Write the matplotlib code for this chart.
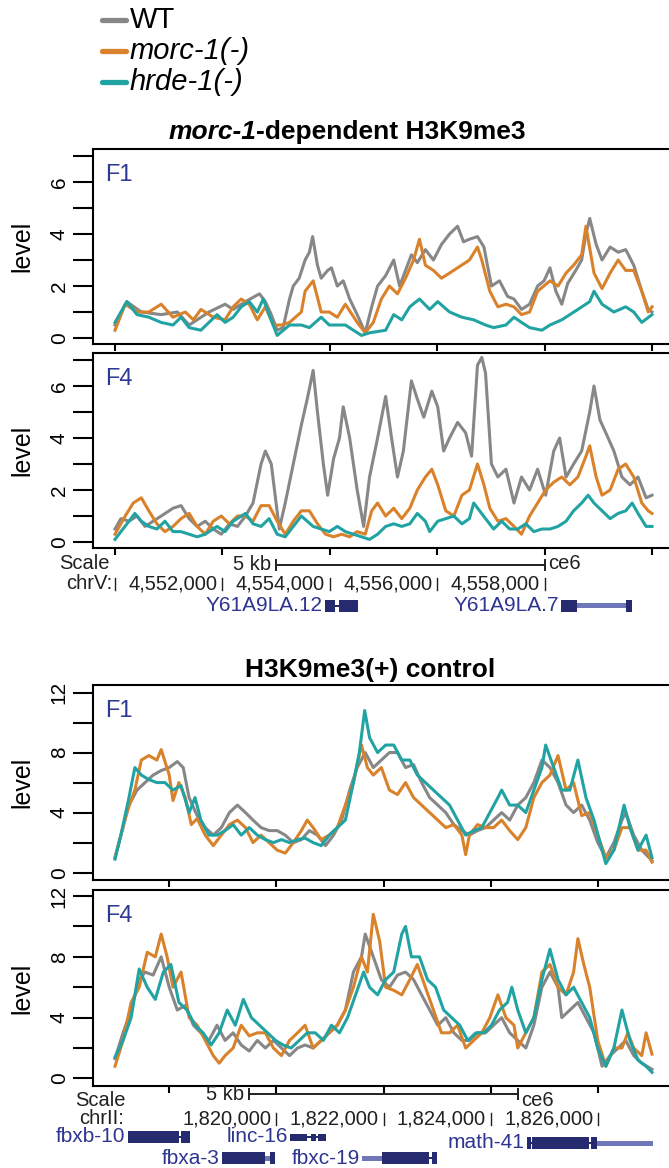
import matplotlib
matplotlib.use("Agg")
import matplotlib.pyplot as plt
from matplotlib.lines import Line2D
from matplotlib.patches import Rectangle

plt.rcParams['font.family'] = ['Liberation Sans', 'DejaVu Sans']

# ---- data (positions in kb from window start) ----
# morc-1-dependent region, chrV 4,550,000 - 4,560,000
dep_start = 4550000
dep_f1_wt_kb = [0, 0.22, 0.49, 0.86, 1.16, 1.38, 1.53, 1.75, 2.05, 2.20, 2.43, 2.69, 2.80, 2.91, 3.02, 3.13,
                3.25, 3.32, 3.43, 3.54, 3.62, 3.68, 3.77, 3.84, 3.96, 4.03, 4.14, 4.25, 4.37, 4.51, 4.66, 4.78,
                4.89, 5.04, 5.19, 5.30, 5.41, 5.52, 5.63, 5.78, 5.93, 6.08, 6.23, 6.38, 6.49, 6.60, 6.75, 6.87,
                7.01, 7.16, 7.31, 7.43, 7.57, 7.72, 7.87, 7.99, 8.10, 8.21, 8.32, 8.43, 8.58, 8.69, 8.77, 8.84,
                8.96, 9.07, 9.22, 9.37, 9.51, 9.66, 9.81, 9.93, 10.0]
dep_f1_wt = [0.5, 1.4, 1.0, 0.9, 1.0, 0.5, 0.7, 1.0, 1.3, 1.1, 1.4, 1.7, 1.4, 0.9, 0.3, 0.4,
             1.5, 2.0, 2.3, 3.0, 3.3, 3.9, 2.8, 2.3, 2.6, 2.7, 2.0, 2.2, 1.5, 0.9, 0.2, 1.2,
             2.0, 2.4, 3.0, 2.0, 2.6, 3.2, 2.9, 3.4, 3.0, 3.6, 4.0, 4.3, 3.7, 3.8, 3.9, 3.5,
             2.0, 2.2, 1.6, 1.5, 1.1, 1.3, 2.0, 2.2, 2.7, 1.8, 1.3, 2.1, 2.6, 3.0, 4.0, 4.6,
             3.6, 3.0, 3.5, 3.3, 3.4, 2.8, 1.8, 1.1, 1.0]
dep_f1_morc_kb = [0, 0.19, 0.41, 0.63, 0.86, 1.08, 1.31, 1.46, 1.60, 1.83, 2.05, 2.20, 2.35, 2.50, 2.65, 2.80,
                  2.95, 3.10, 3.25, 3.47, 3.54, 3.69, 3.84, 3.99, 4.14, 4.29, 4.51, 4.66, 4.81, 4.96, 5.11, 5.26,
                  5.41, 5.56, 5.67, 5.78, 5.93, 6.08, 6.23, 6.38, 6.60, 6.75, 6.83, 6.98, 7.13, 7.28, 7.43, 7.57,
                  7.72, 7.87, 8.10, 8.25, 8.40, 8.54, 8.69, 8.77, 8.92, 9.07, 9.22, 9.37, 9.51, 9.66, 9.81, 9.93, 10.0]
dep_f1_morc = [0.3, 1.3, 1.0, 1.0, 1.3, 0.8, 1.0, 0.7, 1.1, 0.8, 0.7, 1.2, 1.5, 1.3, 0.7, 1.2,
               0.5, 0.5, 0.6, 1.0, 1.8, 2.2, 1.0, 1.0, 0.8, 1.3, 0.6, 0.2, 0.6, 1.5, 2.0, 1.7,
               2.3, 3.0, 3.8, 2.8, 2.6, 2.3, 2.5, 2.7, 3.0, 3.5, 3.0, 1.8, 1.2, 1.3, 1.2, 0.9,
               1.0, 1.8, 2.2, 2.0, 2.5, 2.8, 3.2, 4.3, 2.5, 1.9, 2.5, 3.0, 2.6, 2.6, 1.8, 1.0, 1.2]
dep_f1_hrde_kb = [0, 0.22, 0.41, 0.63, 0.86, 1.08, 1.23, 1.38, 1.60, 1.75, 1.90, 2.05, 2.20, 2.35, 2.50, 2.65,
                  2.76, 2.87, 3.02, 3.25, 3.47, 3.62, 3.84, 3.99, 4.29, 4.44, 4.59, 4.74, 5.04, 5.19, 5.34, 5.49,
                  5.67, 5.86, 6.01, 6.23, 6.46, 6.68, 6.90, 7.05, 7.28, 7.43, 7.57, 7.72, 7.95, 8.10, 8.32, 8.47,
                  8.62, 8.84, 8.92, 9.07, 9.29, 9.51, 9.66, 9.81, 10.0]
dep_f1_hrde = [0.6, 1.4, 0.9, 0.8, 0.6, 0.5, 0.8, 0.4, 0.3, 0.6, 0.9, 0.6, 0.8, 1.2, 1.4, 1.0,
               1.5, 0.9, 0.1, 0.5, 0.5, 0.4, 0.8, 0.5, 0.5, 0.3, 0.1, 0.2, 0.3, 0.9, 0.7, 1.2,
               1.5, 1.1, 1.4, 1.0, 0.8, 0.7, 0.5, 0.4, 0.5, 0.8, 0.6, 0.4, 0.3, 0.5, 0.7, 0.9,
               1.1, 1.4, 1.8, 1.3, 1.0, 1.2, 1.0, 0.6, 0.9]

dep_f4_wt_kb = [0, 0.11, 0.26, 0.41, 0.56, 0.71, 0.86, 1.08, 1.23, 1.38, 1.53, 1.68, 1.83, 1.98, 2.13, 2.28,
                2.43, 2.57, 2.72, 2.80, 2.91, 3.06, 3.17, 3.32, 3.47, 3.58, 3.69, 3.77, 3.88, 3.96, 4.07, 4.18,
                4.25, 4.37, 4.51, 4.63, 4.74, 4.89, 5.04, 5.15, 5.26, 5.37, 5.52, 5.63, 5.75, 5.90, 6.01, 6.12,
                6.23, 6.38, 6.53, 6.64, 6.75, 6.83, 6.90, 7.01, 7.13, 7.28, 7.43, 7.57, 7.72, 7.87, 8.02, 8.17,
                8.28, 8.40, 8.54, 8.69, 8.84, 8.92, 9.03, 9.14, 9.29, 9.44, 9.59, 9.74, 9.89, 10.0]
dep_f4_wt = [0.5, 0.9, 0.8, 1.0, 0.6, 0.8, 1.0, 1.3, 1.4, 0.9, 0.6, 0.8, 0.5, 0.3, 0.7, 0.6,
             1.0, 1.5, 3.0, 3.5, 3.0, 0.5, 1.5, 3.0, 4.5, 5.5, 6.6, 5.0, 3.0, 1.8, 3.2, 4.0,
             5.2, 4.0, 2.0, 0.6, 2.5, 4.0, 5.6, 4.0, 2.5, 3.5, 6.2, 5.5, 4.8, 5.8, 5.2, 3.5,
             4.0, 4.6, 4.2, 3.3, 6.8, 7.1, 6.5, 3.0, 2.5, 2.8, 1.5, 2.5, 2.0, 2.8, 1.8, 3.5,
             4.0, 2.5, 3.0, 3.5, 5.0, 6.0, 4.7, 4.2, 3.5, 2.5, 2.2, 2.5, 1.7, 1.8]
dep_f4_morc_kb = [0, 0.19, 0.34, 0.49, 0.63, 0.78, 0.93, 1.08, 1.23, 1.38, 1.53, 1.68, 1.83, 1.98, 2.13, 2.28,
                  2.43, 2.57, 2.72, 2.87, 3.02, 3.17, 3.32, 3.47, 3.62, 3.77, 3.92, 4.07, 4.22, 4.37, 4.51, 4.66,
                  4.78, 4.89, 5.04, 5.19, 5.34, 5.49, 5.63, 5.78, 5.90, 6.01, 6.16, 6.31, 6.46, 6.60, 6.75, 6.87,
                  6.98, 7.13, 7.28, 7.43, 7.57, 7.72, 7.87, 8.02, 8.17, 8.32, 8.47, 8.62, 8.77, 8.84, 8.96, 9.07,
                  9.22, 9.37, 9.51, 9.66, 9.81, 9.93, 10.0]
dep_f4_morc = [0.3, 1.0, 1.5, 1.7, 1.2, 0.7, 0.4, 0.6, 0.9, 1.1, 0.6, 0.3, 0.8, 1.0, 0.7, 1.0,
               1.0, 0.8, 1.4, 1.4, 0.8, 0.3, 0.8, 1.2, 1.2, 0.7, 0.3, 0.2, 0.3, 0.2, 0.4, 0.3,
               1.2, 1.5, 1.0, 1.3, 0.9, 1.3, 2.0, 2.5, 2.8, 2.2, 1.2, 1.0, 1.8, 2.0, 3.0, 2.2,
               1.3, 0.8, 0.9, 0.6, 0.3, 1.0, 1.5, 2.0, 2.3, 2.5, 2.2, 2.5, 3.3, 3.7, 2.5, 1.8,
               2.0, 2.8, 3.0, 2.5, 1.5, 1.2, 1.1]
dep_f4_hrde_kb = [0, 0.11, 0.26, 0.37, 0.49, 0.63, 0.78, 0.93, 1.08, 1.23, 1.38, 1.53, 1.68, 1.90, 2.05, 2.20,
                  2.43, 2.57, 2.72, 2.87, 3.02, 3.17, 3.32, 3.47, 3.58, 3.69, 3.84, 3.99, 4.14, 4.29, 4.44, 4.59,
                  4.74, 4.89, 5.04, 5.19, 5.34, 5.49, 5.63, 5.78, 5.86, 6.01, 6.16, 6.31, 6.46, 6.60, 6.68, 6.79,
                  6.90, 7.05, 7.20, 7.35, 7.50, 7.65, 7.80, 7.95, 8.10, 8.25, 8.40, 8.54, 8.69, 8.81, 8.92, 9.07,
                  9.22, 9.37, 9.51, 9.63, 9.74, 9.89, 10.0]
dep_f4_hrde = [0.1, 0.4, 0.8, 1.1, 0.8, 0.6, 0.5, 0.8, 0.4, 0.4, 0.3, 0.2, 0.3, 0.6, 0.4, 0.8,
               1.1, 0.7, 0.6, 0.9, 0.3, 0.2, 0.6, 1.0, 0.8, 0.6, 0.5, 0.4, 0.6, 0.4, 0.3, 0.2,
               0.1, 0.3, 0.6, 0.7, 0.6, 0.7, 1.1, 0.8, 0.4, 0.8, 0.9, 1.0, 0.7, 0.9, 1.5, 1.2,
               0.9, 0.5, 0.8, 0.5, 0.5, 0.7, 0.4, 0.5, 0.5, 0.6, 0.8, 1.2, 1.5, 1.8, 1.5, 1.2,
               0.9, 1.1, 1.2, 1.5, 1.1, 0.6, 0.6]

# H3K9me3(+) control region, chrII 1,817,000 - 1,827,000
ctl_start = 1817000
ctl_f1_wt_kb = [0, 0.11, 0.26, 0.41, 0.56, 0.71, 0.86, 1.01, 1.16, 1.27, 1.38, 1.53, 1.68, 1.83, 1.98, 2.13,
                2.28, 2.43, 2.57, 2.72, 2.87, 3.02, 3.17, 3.32, 3.47, 3.62, 3.77, 3.92, 4.07, 4.22, 4.37, 4.51,
                4.66, 4.81, 4.96, 5.11, 5.26, 5.41, 5.56, 5.71, 5.86, 6.01, 6.16, 6.31, 6.46, 6.60, 6.75, 6.90,
                7.05, 7.20, 7.35, 7.50, 7.65, 7.80, 7.95, 8.10, 8.25, 8.40, 8.54, 8.69, 8.84, 8.99, 9.14, 9.29,
                9.44, 9.51, 9.66, 9.81, 10.0]
ctl_f1_wt = [1.0, 2.5, 4.5, 5.5, 6.0, 6.5, 6.8, 7.0, 7.4, 7.0, 5.0, 3.8, 3.0, 2.5, 3.0, 4.0,
             4.5, 4.0, 3.5, 3.0, 2.8, 2.8, 2.5, 2.0, 2.2, 2.8, 2.5, 1.8, 2.5, 3.5, 5.5, 7.0,
             8.0, 7.0, 7.5, 8.0, 8.0, 7.0, 7.2, 6.0, 5.0, 4.5, 4.0, 3.2, 2.8, 2.5, 2.8, 3.0,
             3.5, 4.0, 3.5, 4.5, 5.0, 6.0, 7.5, 7.0, 6.0, 4.5, 4.0, 4.5, 3.5, 2.0, 1.0, 2.0,
             3.5, 4.0, 2.5, 1.5, 0.8]
ctl_f1_morc_kb = [0, 0.11, 0.22, 0.37, 0.49, 0.63, 0.78, 0.86, 1.01, 1.08, 1.19, 1.31, 1.42, 1.53, 1.68, 1.83,
                  1.98, 2.13, 2.28, 2.43, 2.57, 2.72, 2.87, 3.02, 3.17, 3.32, 3.47, 3.58, 3.69, 3.84, 3.99, 4.14,
                  4.29, 4.44, 4.59, 4.70, 4.81, 4.96, 5.11, 5.26, 5.41, 5.56, 5.71, 5.86, 6.01, 6.16, 6.31, 6.46,
                  6.53, 6.60, 6.75, 6.90, 7.05, 7.20, 7.35, 7.50, 7.65, 7.80, 7.95, 8.10, 8.25, 8.40, 8.54, 8.69,
                  8.84, 8.99, 9.14, 9.29, 9.44, 9.59, 9.74, 9.89, 10.0]
ctl_f1_morc = [1.0, 2.5, 4.0, 5.5, 7.5, 7.8, 7.5, 8.2, 6.5, 4.8, 6.0, 5.0, 3.2, 3.6, 2.5, 1.8,
               2.5, 3.2, 3.5, 3.0, 2.0, 2.5, 2.0, 1.5, 1.3, 2.0, 2.8, 3.5, 3.0, 2.2, 2.5, 3.0,
               4.5, 6.0, 8.5, 7.0, 6.5, 7.0, 5.5, 5.2, 6.0, 5.0, 4.5, 4.0, 3.5, 3.0, 3.2, 2.5,
               1.2, 2.5, 3.2, 3.0, 3.0, 3.5, 2.8, 2.2, 3.0, 5.0, 6.0, 6.5, 7.8, 5.5, 6.0, 3.8,
               4.0, 2.5, 1.0, 1.5, 3.0, 3.0, 1.5, 1.5, 0.7]
ctl_f1_hrde_kb = [0, 0.11, 0.26, 0.37, 0.49, 0.63, 0.78, 0.93, 1.08, 1.23, 1.38, 1.49, 1.60, 1.75, 1.90, 2.05,
                  2.20, 2.35, 2.50, 2.65, 2.80, 2.95, 3.10, 3.25, 3.40, 3.54, 3.69, 3.84, 3.99, 4.14, 4.29, 4.44,
                  4.55, 4.65, 4.74, 4.89, 5.04, 5.19, 5.34, 5.49, 5.63, 5.78, 5.93, 6.08, 6.23, 6.38, 6.53, 6.68,
                  6.83, 6.98, 7.13, 7.20, 7.35, 7.50, 7.65, 7.80, 7.95, 8.02, 8.17, 8.32, 8.47, 8.62, 8.77, 8.92,
                  9.07, 9.14, 9.29, 9.48, 9.59, 9.74, 9.89, 10.0]
ctl_f1_hrde = [0.9, 2.5, 5.0, 7.0, 6.5, 6.2, 6.0, 6.0, 5.5, 5.8, 4.0, 5.0, 3.5, 2.5, 2.5, 2.8,
               3.2, 2.5, 3.0, 2.5, 2.2, 2.0, 2.2, 2.0, 2.2, 2.3, 2.0, 1.8, 2.5, 3.0, 3.5, 6.0,
               8.0, 10.8, 9.0, 8.0, 8.5, 8.5, 7.5, 7.5, 6.5, 6.0, 5.5, 5.0, 4.5, 3.5, 2.5, 2.8,
               3.0, 4.0, 5.0, 5.5, 4.5, 4.5, 4.0, 5.5, 7.0, 8.5, 7.0, 5.5, 5.5, 7.5, 5.0, 3.5,
               1.5, 0.6, 1.5, 4.5, 3.0, 1.5, 2.5, 1.0]

ctl_f4_wt_kb = [0, 0.15, 0.30, 0.45, 0.56, 0.71, 0.86, 1.01, 1.16, 1.31, 1.46, 1.60, 1.75, 1.90, 2.05, 2.20,
                2.35, 2.50, 2.65, 2.80, 2.95, 3.10, 3.25, 3.40, 3.54, 3.69, 3.84, 3.99, 4.14, 4.29, 4.44, 4.59,
                4.66, 4.81, 4.96, 5.11, 5.26, 5.41, 5.56, 5.71, 5.86, 6.01, 6.16, 6.31, 6.46, 6.60, 6.75, 6.90,
                7.05, 7.20, 7.35, 7.50, 7.65, 7.80, 7.95, 8.10, 8.25, 8.32, 8.47, 8.62, 8.77, 8.92, 9.07, 9.22,
                9.37, 9.51, 9.66, 9.81, 10.0]
ctl_f4_wt = [1.3, 3.0, 4.5, 6.5, 7.0, 6.8, 8.0, 6.0, 4.5, 4.8, 3.5, 3.0, 2.5, 3.5, 2.5, 3.0,
             2.2, 1.8, 2.5, 2.0, 2.5, 2.0, 1.5, 2.0, 2.2, 2.0, 2.5, 3.0, 3.5, 4.5, 7.0, 8.0,
             9.5, 8.0, 6.5, 6.0, 6.8, 7.0, 6.5, 5.5, 4.5, 3.5, 4.0, 3.0, 2.5, 2.5, 3.0, 3.0,
             3.5, 4.0, 3.0, 2.5, 2.0, 3.5, 6.0, 7.0, 6.0, 4.0, 4.5, 5.0, 4.0, 3.0, 0.8, 1.5,
             2.0, 2.5, 1.5, 1.0, 0.6]
ctl_f4_morc_kb = [0, 0.15, 0.30, 0.45, 0.60, 0.75, 0.86, 0.97, 1.08, 1.23, 1.38, 1.53, 1.68, 1.83, 1.94, 2.05,
                  2.20, 2.35, 2.50, 2.65, 2.80, 2.95, 3.10, 3.25, 3.40, 3.54, 3.69, 3.84, 3.99, 4.14, 4.29, 4.44,
                  4.59, 4.70, 4.81, 4.93, 5.04, 5.19, 5.34, 5.49, 5.63, 5.78, 5.93, 6.08, 6.23, 6.38, 6.53, 6.68,
                  6.83, 6.98, 7.13, 7.28, 7.43, 7.50, 7.65, 7.80, 7.95, 8.10, 8.25, 8.40, 8.54, 8.62, 8.73, 8.84,
                  8.99, 9.14, 9.29, 9.44, 9.55, 9.66, 9.81, 9.89, 10.0]
ctl_f4_morc = [0.8, 2.5, 5.0, 6.0, 8.3, 8.0, 9.5, 8.0, 6.0, 7.0, 4.0, 3.5, 2.5, 1.5, 1.0, 1.5,
               2.0, 3.5, 2.8, 3.0, 3.0, 2.0, 1.5, 2.5, 3.0, 3.5, 2.0, 2.5, 3.0, 3.5, 4.5, 6.0,
               8.0, 7.0, 10.8, 9.0, 6.0, 5.8, 5.5, 6.5, 7.5, 6.0, 4.5, 3.0, 3.0, 3.5, 2.0, 2.5,
               3.0, 4.0, 5.5, 4.0, 3.5, 2.0, 3.0, 4.0, 7.0, 7.5, 6.0, 5.5, 7.0, 9.2, 7.5, 6.0,
               2.5, 0.8, 2.0, 2.0, 3.0, 2.0, 1.5, 3.0, 1.6]
ctl_f4_hrde_kb = [0, 0.15, 0.30, 0.45, 0.60, 0.75, 0.90, 1.04, 1.19, 1.34, 1.49, 1.64, 1.79, 1.94, 2.09, 2.24,
                  2.39, 2.54, 2.69, 2.84, 2.99, 3.13, 3.28, 3.43, 3.58, 3.73, 3.88, 4.03, 4.18, 4.33, 4.48, 4.63,
                  4.74, 4.89, 5.04, 5.19, 5.34, 5.41, 5.52, 5.67, 5.82, 5.97, 6.12, 6.27, 6.42, 6.57, 6.72, 6.87,
                  7.01, 7.16, 7.31, 7.39, 7.50, 7.65, 7.80, 7.95, 8.10, 8.25, 8.40, 8.54, 8.69, 8.84, 8.99, 9.14,
                  9.29, 9.44, 9.59, 9.74, 9.89, 10.0]
ctl_f4_hrde = [1.4, 2.5, 4.0, 7.2, 6.0, 5.2, 7.0, 7.5, 5.0, 4.5, 3.5, 3.0, 2.2, 3.0, 4.5, 3.5,
               5.2, 4.0, 3.5, 3.0, 2.5, 2.2, 2.0, 2.5, 3.0, 3.0, 2.5, 3.5, 3.0, 4.0, 5.5, 7.0,
               6.0, 5.5, 6.5, 7.0, 9.5, 10.0, 8.0, 8.0, 6.5, 6.0, 4.5, 4.0, 3.5, 2.5, 3.0, 3.0,
               3.5, 4.5, 5.0, 6.0, 4.5, 3.0, 4.0, 6.5, 8.5, 6.5, 5.5, 6.0, 5.0, 4.0, 2.0, 0.8,
               2.0, 4.5, 2.5, 1.2, 0.8, 0.4]

# genome track annotations
dep_coords = [4550000, 4552000, 4554000, 4556000, 4558000]
dep_scalebar = (4553000, 4558000)
ctl_coords = [1820000, 1822000, 1824000, 1826000]
ctl_scalebar = (1819500, 1824500)

# genes: (name, row, [(start_kb, end_kb, kind), ...]); kind: cds / utr / intron / nc
dep_genes = [
    ("Y61A9LA.12", 0, [(3.91, 4.10, "cds"), (4.10, 4.17, "intron"), (4.17, 4.53, "cds")]),
    ("Y61A9LA.7", 0, [(8.31, 8.60, "cds"), (8.60, 9.55, "utr"), (9.52, 9.63, "cds")]),
]
ctl_genes = [
    ("fbxb-10", 0, [(0.24, 1.19, "cds"), (1.19, 1.23, "intron"), (1.23, 1.40, "cds")]),
    ("linc-16", 0, [(3.26, 3.58, "nc"), (3.58, 3.65, "intron"), (3.65, 3.74, "nc"),
                    (3.74, 3.78, "intron"), (3.78, 3.93, "nc")]),
    ("math-41", 1, [(7.67, 7.75, "cds"), (7.75, 7.77, "intron"), (7.77, 8.83, "cds"),
                    (8.83, 8.86, "intron"), (8.86, 8.98, "cds"), (8.98, 10.02, "utr")]),
    ("fbxa-3", 2, [(1.99, 2.79, "cds"), (2.79, 2.89, "utr"), (2.89, 2.98, "cds")]),
    ("fbxc-19", 2, [(4.60, 4.97, "utr"), (4.97, 5.85, "cds"), (5.85, 5.90, "intron"), (5.90, 6.00, "cds")]),
]

series_names = ["WT", "morc-1(-)", "hrde-1(-)"]

# ---- styling ----
GRAY = '#878787'
ORANGE = '#D9822B'
TEAL = '#22A3A3'
TAG = '#2E3A94'
GENE = '#262A6E'
GENE_LBL = '#2D3590'
UTR = '#7077B8'
colors = [GRAY, ORANGE, TEAL]

W, H = 669, 1168
fig = plt.figure(figsize=(W / 100, H / 100), dpi=100)
renderer = fig.canvas.get_renderer()


def fx(px):
    return px / W


def fy(py):
    return 1 - py / H


AX_LEFT = 93
KB_PX = 53.7
X0_PX = 115
XLIM = ((AX_LEFT - X0_PX) / KB_PX, (W - X0_PX) / KB_PX)


def panel(top, bottom, ylim, ymajor, yminor, xticks, tag, traces):
    ax = fig.add_axes([fx(AX_LEFT), fy(bottom), 1 - fx(AX_LEFT), (bottom - top) / H])
    for (xs, ys), c in zip(traces, colors):
        ax.plot(xs, ys, color=c, lw=2.2, solid_joinstyle='round')
    ax.set_xlim(*XLIM)
    ax.set_ylim(*ylim)
    ax.set_yticks(ymajor)
    ax.set_yticks(yminor, minor=True)
    ax.set_yticklabels([str(v) for v in ymajor], rotation=90, va='center')
    ax.set_xticks(xticks)
    ax.tick_params(axis='y', which='both', length=14.5, width=1.5, labelsize=15, pad=3)
    ax.tick_params(axis='x', which='both', length=5, width=1.5, labelbottom=False)
    for s in ['left', 'top', 'bottom']:
        ax.spines[s].set_linewidth(1.5)
    ax.spines['right'].set_visible(False)
    ax.text(0.021, 0.836, tag, transform=ax.transAxes, color=TAG, fontsize=17,
            ha='left', va='baseline')
    fig.text(fx(22), fy((top + bottom) / 2), 'level', rotation=90, fontsize=18,
             ha='center', va='center')
    return ax


def track(top, bottom, start, coords, scalebar, genes, rows, scale_right, chr_right, chr_name):
    ax = fig.add_axes([fx(AX_LEFT), fy(bottom), 1 - fx(AX_LEFT), (bottom - top) / H])
    ax.set_xlim(*XLIM)
    ax.set_ylim(bottom, top)
    ax.axis('off')
    kw = dict(fontsize=14.5, color='#231F20', clip_on=False)
    y_scale, y_chr, y_bar = rows['scale'], rows['chr'], rows['bar']
    # scale bar
    b0, b1 = (scalebar[0] - start) / 1000, (scalebar[1] - start) / 1000
    ax.plot([b0, b1], [y_bar, y_bar], color='#231F20', lw=1.4, clip_on=False)
    for b in (b0, b1):
        ax.plot([b, b], [y_bar - 5, y_bar + 5], color='#231F20', lw=1.4, clip_on=False)
    ax.text(b0 - 0.1, y_bar, '5 kb', ha='right', va='center', **kw)
    ax.text(b1 + 0.07, y_scale, 'ce6', ha='left', va='center', **kw)
    ax.text((scale_right - X0_PX) / KB_PX, y_scale, 'Scale', ha='right', va='center', **kw)
    ax.text((chr_right - X0_PX) / KB_PX, y_chr, chr_name, ha='right', va='center', **kw)
    for bp in coords:
        k = (bp - start) / 1000
        ax.plot([k, k], [y_chr - 6, y_chr + 6], color='#231F20', lw=1.0, clip_on=False)
        if k > 0.5:
            ax.text(k - 0.09, y_chr, f"{bp:,}", ha='right', va='center', **kw)
    # genes
    for name, row, parts in genes:
        yc = rows['genes'][row]
        for s, e, kind in parts:
            if kind == 'cds':
                h, col = 12, GENE
            elif kind == 'nc':
                h, col = 7, GENE
            elif kind == 'utr':
                h, col = 5, UTR
            else:
                h, col = 1.6, GENE
            ax.add_patch(Rectangle((s, yc - h / 2), e - s, h, facecolor=col,
                                   edgecolor='none', clip_on=False))
        ax.text(parts[0][0] - 0.04, yc, name, ha='right', va='center',
                fontsize=15, color=GENE_LBL, clip_on=False)
    return ax


# ---- legend ----
for i, (name, c) in enumerate(zip(series_names, colors)):
    yl = 20 + 31 * i
    fig.add_artist(Line2D([fx(102), fx(126)], [fy(yl), fy(yl)], color=c, lw=3.8,
                          solid_capstyle='round', transform=fig.transFigure))
    fig.text(fx(130), fy(yl + 8), name, fontsize=21, ha='left', va='baseline',
             fontstyle='normal' if i == 0 else 'italic')

# ---- titles ----
t1 = fig.text(0, fy(139), 'morc-1', fontsize=19, fontweight='bold', fontstyle='italic', va='baseline')
t2 = fig.text(0, fy(139), '-dependent H3K9me3', fontsize=19, fontweight='bold', va='baseline')
w1 = t1.get_window_extent(renderer).width
w2 = t2.get_window_extent(renderer).width
xs = 347 - (w1 + w2) / 2
t1.set_x(fx(xs))
t2.set_x(fx(xs + w1))
fig.text(fx(370), fy(677), 'H3K9me3(+) control', fontsize=19, fontweight='bold',
         ha='center', va='baseline')

# ---- panels ----
top_xt = [0, 2, 4, 6, 8, 10]
bot_xt = [1, 3, 5, 7, 9]
panel(149, 344, (-0.23, 7.27), [0, 2, 4, 6], [1, 3, 5, 7], top_xt, 'F1',
      [(dep_f1_wt_kb, dep_f1_wt), (dep_f1_morc_kb, dep_f1_morc), (dep_f1_hrde_kb, dep_f1_hrde)])
panel(353, 548, (-0.23, 7.27), [0, 2, 4, 6], [1, 3, 5, 7], top_xt, 'F4',
      [(dep_f4_wt_kb, dep_f4_wt), (dep_f4_morc_kb, dep_f4_morc), (dep_f4_hrde_kb, dep_f4_hrde)])
panel(685, 880, (-0.49, 12.5), [0, 4, 8, 12], [2, 6, 10], bot_xt, 'F1',
      [(ctl_f1_wt_kb, ctl_f1_wt), (ctl_f1_morc_kb, ctl_f1_morc), (ctl_f1_hrde_kb, ctl_f1_hrde)])
panel(890, 1086, (-0.5, 12.4), [0, 4, 8, 12], [2, 6, 10], bot_xt, 'F4',
      [(ctl_f4_wt_kb, ctl_f4_wt), (ctl_f4_morc_kb, ctl_f4_morc), (ctl_f4_hrde_kb, ctl_f4_hrde)])

track(550, 640, dep_start, dep_coords, dep_scalebar, dep_genes,
      {'scale': 564, 'bar': 565, 'chr': 584, 'genes': [606]}, 110, 112, 'chrV:')
track(1088, 1168, ctl_start, ctl_coords, ctl_scalebar, ctl_genes,
      {'scale': 1101, 'bar': 1094, 'chr': 1119, 'genes': [1137, 1143, 1158]}, 126, 124, 'chrII:')

fig.savefig('out.png', dpi=100)
